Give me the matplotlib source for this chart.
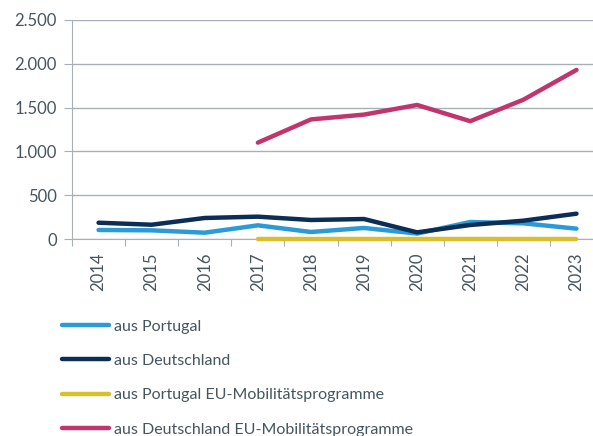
import numpy as np
import matplotlib.pyplot as plt

years = ['2014', '2015', '2016', '2017', '2018', '2019', '2020', '2021', '2022', '2023']
aus_portugal = [103, 99, 72, 156, 80, 126, 62, 194, 179, 118]
aus_deutschland = [186, 163, 240, 255, 217, 228, 76, 160, 209, 289]
pt_eu = [np.nan, np.nan, np.nan, 0, 0, 0, 0, 0, 0, 0]
de_eu = [np.nan, np.nan, np.nan, 1100, 1365, 1420, 1530, 1345, 1590, 1930]

labels = ['aus Portugal', 'aus Deutschland',
          'aus Portugal EU-Mobilitätsprogramme',
          'aus Deutschland EU-Mobilitätsprogramme']
colors = ['#2a9bd7', '#0b2d56', '#d8bf2c', '#c0356d']

text_col = '#45555f'
grid_col = '#a6b0b6'

plt.rcParams['font.family'] = ['Lato', 'DejaVu Sans']

fig = plt.figure(figsize=(5.93, 4.36), dpi=100)
ax = fig.add_axes([72/593, 1-239/436, (603-72)/593, 219/436])

x = np.arange(len(years))
for vals, lab, col in zip([aus_portugal, aus_deutschland, pt_eu, de_eu], labels, colors):
    ax.plot(x, vals, color=col, lw=3.2, solid_capstyle='round', solid_joinstyle='round',
            label=lab, zorder=3, clip_on=False)

ax.set_ylim(0, 2500)
ax.set_xlim(-0.5, 9.5)
ax.set_yticks(np.arange(0, 2501, 500))
ax.set_yticklabels(['0', '500', '1.000', '1.500', '2.000', '2.500'])
ax.grid(axis='y', color=grid_col, lw=1)
ax.set_axisbelow(True)

ax.set_xticks(np.arange(-0.5, 9.5, 1))
ax.set_xticklabels([])
ax.set_xticks(x, minor=True)
ax.set_xticklabels(years, minor=True, rotation=90)
ax.tick_params(axis='x', which='major', length=5, color=grid_col, direction='out')
ax.tick_params(axis='x', which='minor', length=0, pad=10, labelsize=12, labelcolor=text_col)
ax.tick_params(axis='y', length=6, color=grid_col, labelsize=12, labelcolor=text_col, pad=5)

for s in ['top', 'right']:
    ax.spines[s].set_visible(False)
ax.spines['left'].set_color(grid_col)
ax.spines['bottom'].set_color(grid_col)

fig.legend(loc='upper left', bbox_to_anchor=(48/593, 1-305/436), frameon=False,
           fontsize=11.5, labelcolor=text_col, handlelength=2.94, handletextpad=0.31,
           labelspacing=1.27)

fig.savefig('out.png', dpi=100)
